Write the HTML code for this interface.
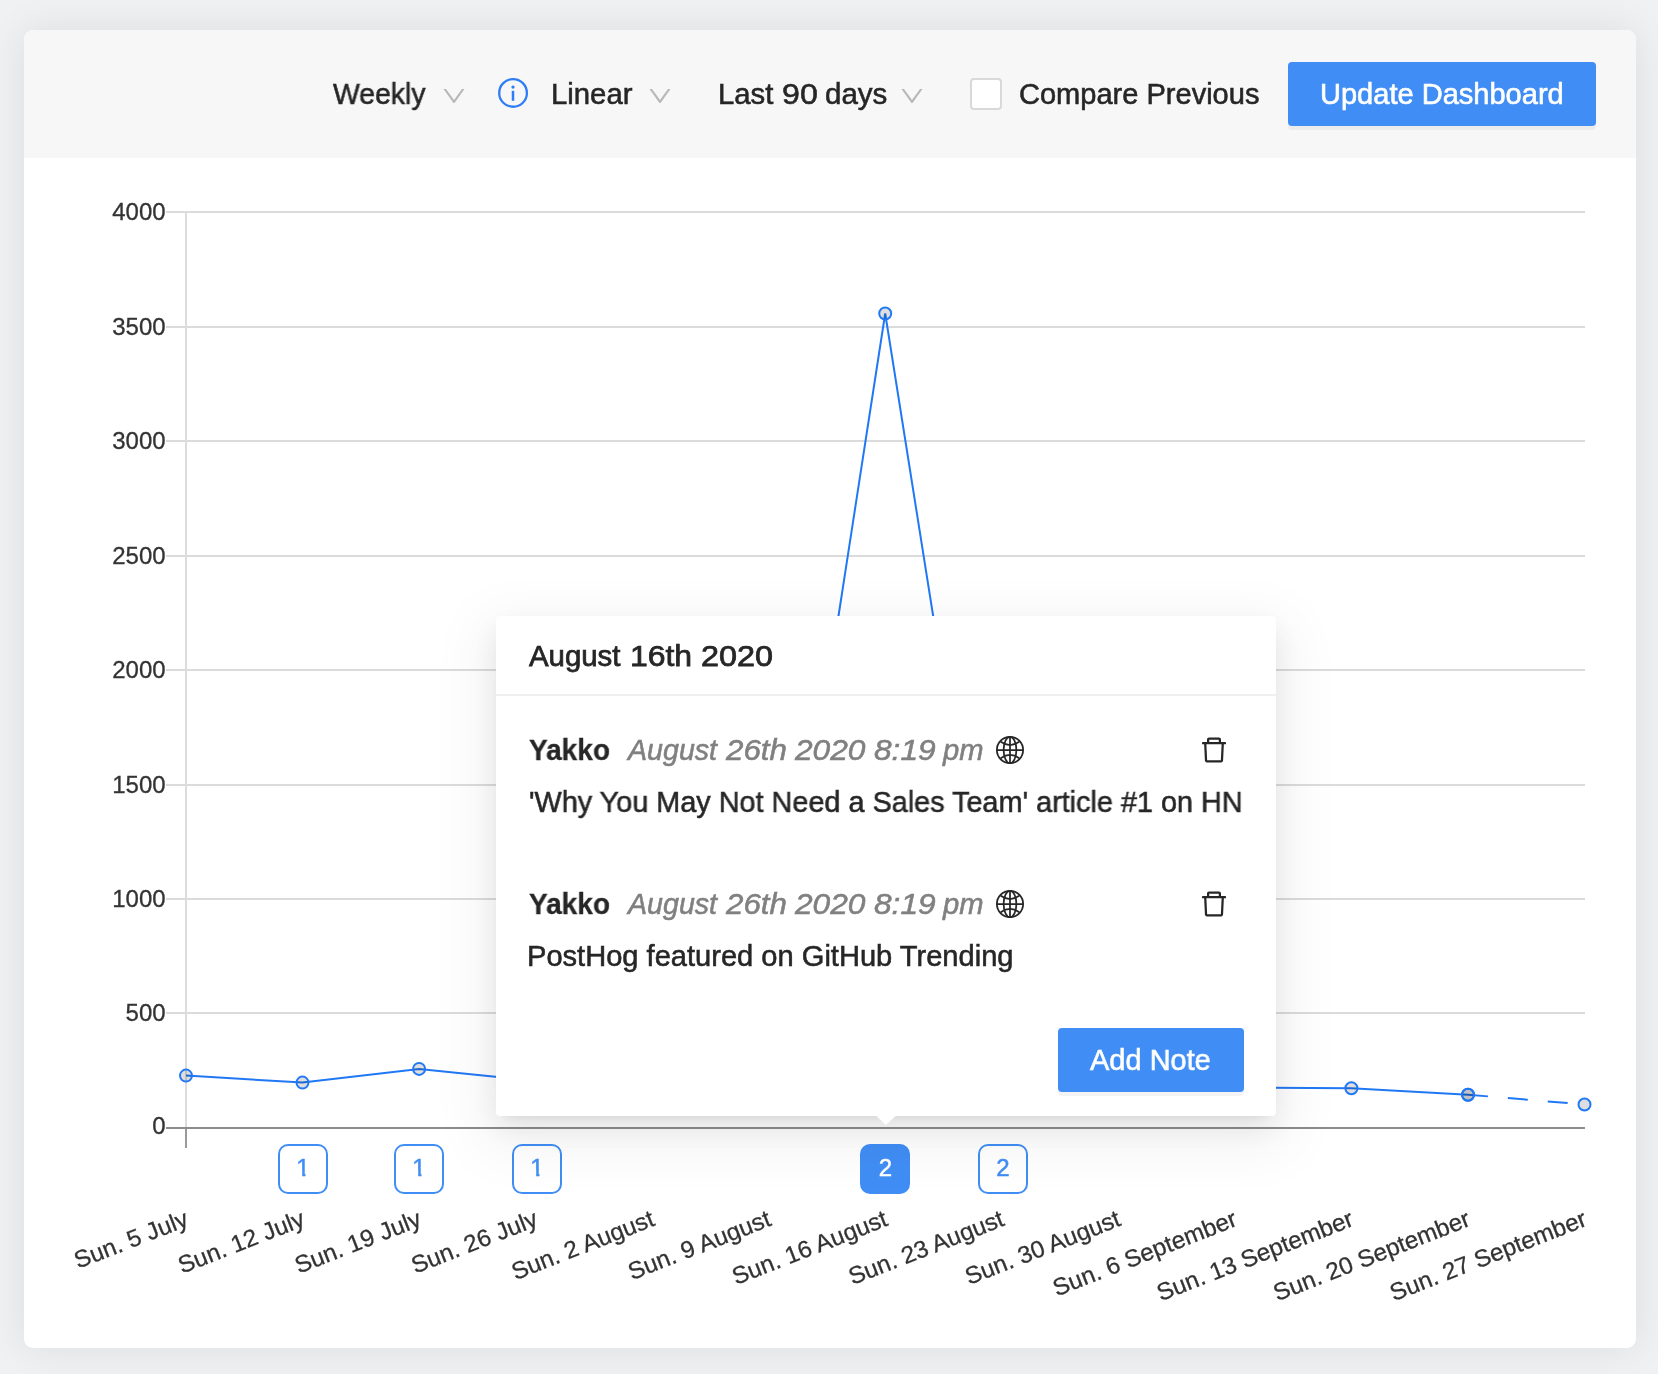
<!DOCTYPE html>
<html lang="en">
<head>
<meta charset="utf-8">
<title>Trends</title>
<style>
*{box-sizing:border-box;margin:0;padding:0}
html,body{width:1658px;height:1374px;overflow:hidden}
body{background:#f0f1f3;font-family:"Liberation Sans",sans-serif;color:#262626;position:relative}
.card{position:absolute;left:24px;top:30px;width:1612px;height:1318px;background:#fff;border-radius:9px;box-shadow:0 0 40px rgba(0,0,0,.085);overflow:hidden}
.toolbar{position:absolute;left:0;top:0;width:1612px;height:128px;background:#f7f7f7}
.t{position:absolute;white-space:nowrap;line-height:1;font-size:29px;color:#262626;-webkit-text-stroke:0.55px currentColor;will-change:transform}
.w{position:absolute;top:0;transform-origin:0 0;white-space:nowrap}
.chev{position:absolute}
.cb{position:absolute;left:970px;top:78px;width:32px;height:32px;border:2px solid #d9d9d9;border-radius:4px;background:#fff}
.btn{position:absolute;background:#408ef5;border-radius:4px;box-shadow:0 4px 0 rgba(0,0,0,.045);color:#fff}
.btn span{position:absolute;white-space:nowrap;line-height:1;font-size:29px;color:#fff;-webkit-text-stroke:0.6px #fff;will-change:transform}
#chart{position:absolute;left:0;top:0}
.mk{position:absolute;top:1144px;width:50px;height:50px;border:2px solid #408ef5;border-radius:10px;background:#fff;color:#408ef5;font-size:24px;line-height:43.6px;text-align:center;will-change:transform;-webkit-text-stroke:0.5px currentColor}
.mk .o{display:inline-block;clip-path:polygon(0 0,9.1px 0,9.1px 100%,5.9px 100%,5.9px 55%,0 55%)}
.mk.on{background:#408ef5;color:#fff;text-indent:1px}
.pop{position:absolute;left:496px;top:616px;width:780px;height:500px;background:#fff;border-radius:4px;box-shadow:0 6px 12px -8px rgba(0,0,0,.12),0 12px 32px 0 rgba(0,0,0,.08),0 18px 56px 16px rgba(0,0,0,.05)}
.pop .sep{position:absolute;left:0;top:78px;width:780px;height:2px;background:#f0f0f0}
</style>
</head>
<body>
<div class="card"><div class="toolbar"></div></div>

<!-- toolbar -->
<span class="t" id="t1" style="left:332.6px;top:80px;transform:scaleX(0.9790);transform-origin:0 0;">Weekly</span>
<svg class="chev" style="left:439.5px;top:82.2px" width="28" height="28" viewBox="0 0 1024 1024"><path d="M884 256h-75c-5.100 0-9.900 2.500-12.900 6.600L512 654.200 227.900 262.600c-3-4.100-7.800-6.600-12.900-6.600h-75c-6.500 0-10.300 7.400-6.500 12.700l352.600 486.100c12.800 17.600 39 17.600 51.700 0l352.600-486.100c3.900-5.300.100-12.700-6.400-12.700z" fill="#b8b8b8"/></svg>
<svg class="chev" style="left:497px;top:77px" width="32" height="32" viewBox="0 0 32 32"><circle cx="16.05" cy="15.9" r="13.85" fill="none" stroke="#2f7df6" stroke-width="2.3"/><rect x="14.75" y="13.8" width="2.5" height="10" fill="#2f7df6"/><circle cx="16" cy="10.1" r="1.65" fill="#2f7df6"/></svg>
<span class="t" id="t2" style="left:550.5px;top:80px;transform:scaleX(1.0109);transform-origin:0 0;">Linear</span>
<svg class="chev" style="left:646.4px;top:82.2px" width="28" height="28" viewBox="0 0 1024 1024"><path d="M884 256h-75c-5.100 0-9.900 2.500-12.900 6.600L512 654.200 227.900 262.600c-3-4.100-7.800-6.600-12.900-6.600h-75c-6.500 0-10.300 7.400-6.500 12.700l352.600 486.100c12.800 17.600 39 17.600 51.700 0l352.600-486.100c3.900-5.300.100-12.700-6.400-12.700z" fill="#b8b8b8"/></svg>
<div class="t" id="t3" style="left:0;top:80px;"><span class="w" style="left:717.5px;transform:scaleX(1.0101)">Last</span> <span class="w" style="left:781.8px;transform:scaleX(1.1091)">90</span> <span class="w" style="left:825.1px;transform:scaleX(1.0182)">days</span></div>
<svg class="chev" style="left:898.1px;top:82.2px" width="28" height="28" viewBox="0 0 1024 1024"><path d="M884 256h-75c-5.100 0-9.900 2.500-12.900 6.600L512 654.200 227.900 262.600c-3-4.100-7.800-6.600-12.900-6.600h-75c-6.500 0-10.300 7.400-6.500 12.700l352.600 486.100c12.800 17.600 39 17.600 51.700 0l352.600-486.100c3.900-5.300.100-12.700-6.400-12.700z" fill="#b8b8b8"/></svg>
<div class="cb"></div>
<span class="t" id="t4" style="left:1019.2px;top:80px;transform:scaleX(1.0010);transform-origin:0 0;">Compare Previous</span>
<div class="btn" style="left:1288px;top:62px;width:308px;height:64px"><span id="t5" style="left:32.2px;top:18px;transform:scaleX(1.0012);transform-origin:0 0;">Update Dashboard</span></div>

<!-- chart -->
<svg id="chart" width="1658" height="1374" viewBox="0 0 1658 1374" font-family="Liberation Sans, sans-serif">
<rect x="166" y="1012.0" width="1419" height="2" fill="#dbdbdb"/>
<rect x="166" y="898.0" width="1419" height="2" fill="#dbdbdb"/>
<rect x="166" y="784.0" width="1419" height="2" fill="#dbdbdb"/>
<rect x="166" y="669.0" width="1419" height="2" fill="#dbdbdb"/>
<rect x="166" y="555.0" width="1419" height="2" fill="#dbdbdb"/>
<rect x="166" y="440.0" width="1419" height="2" fill="#dbdbdb"/>
<rect x="166" y="326.0" width="1419" height="2" fill="#dbdbdb"/>
<rect x="166" y="211.0" width="1419" height="2" fill="#dbdbdb"/>
<rect x="185" y="211" width="2" height="917" fill="#dcdcdc"/>
<rect x="185" y="1128" width="2" height="20" fill="#9a9a9a"/>
<rect x="166" y="1127" width="1419" height="2" fill="#8c8c8c"/>
<text x="165.6" y="1134.1" font-size="24" fill="#333" stroke="#333" stroke-width="0.3" text-anchor="end">0</text>
<text x="165.6" y="1020.5" font-size="24" fill="#333" stroke="#333" stroke-width="0.3" text-anchor="end">500</text>
<text x="165.6" y="906.5" font-size="24" fill="#333" stroke="#333" stroke-width="0.3" text-anchor="end">1000</text>
<text x="165.6" y="792.5" font-size="24" fill="#333" stroke="#333" stroke-width="0.3" text-anchor="end">1500</text>
<text x="165.6" y="677.5" font-size="24" fill="#333" stroke="#333" stroke-width="0.3" text-anchor="end">2000</text>
<text x="165.6" y="563.5" font-size="24" fill="#333" stroke="#333" stroke-width="0.3" text-anchor="end">2500</text>
<text x="165.6" y="448.5" font-size="24" fill="#333" stroke="#333" stroke-width="0.3" text-anchor="end">3000</text>
<text x="165.6" y="334.5" font-size="24" fill="#333" stroke="#333" stroke-width="0.3" text-anchor="end">3500</text>
<text x="165.6" y="219.5" font-size="24" fill="#333" stroke="#333" stroke-width="0.3" text-anchor="end">4000</text>
<polyline points="186.0,1075.6 302.5,1082.6 419.1,1068.9 535.6,1081.0 652.2,1075.0 768.7,1068.0 885.2,313.5 1001.8,1049.0 1118.3,1075.0 1234.9,1087.6 1351.4,1088.2 1468.0,1094.7" fill="none" stroke="#2178f5" stroke-width="2" stroke-linejoin="miter"/>
<line x1="1468.0" y1="1094.7" x2="1584.5" y2="1104.5" stroke="#2178f5" stroke-width="2" stroke-dasharray="20 20"/>
<circle cx="186.0" cy="1075.6" r="6" fill="rgba(0,0,0,0.13)" stroke="#2178f5" stroke-width="2"/>
<circle cx="302.5" cy="1082.6" r="6" fill="rgba(0,0,0,0.13)" stroke="#2178f5" stroke-width="2"/>
<circle cx="419.1" cy="1068.9" r="6" fill="rgba(0,0,0,0.13)" stroke="#2178f5" stroke-width="2"/>
<circle cx="535.6" cy="1081" r="6" fill="rgba(0,0,0,0.13)" stroke="#2178f5" stroke-width="2"/>
<circle cx="652.2" cy="1075" r="6" fill="rgba(0,0,0,0.13)" stroke="#2178f5" stroke-width="2"/>
<circle cx="768.7" cy="1068" r="6" fill="rgba(0,0,0,0.13)" stroke="#2178f5" stroke-width="2"/>
<circle cx="885.2" cy="313.5" r="6" fill="rgba(0,0,0,0.13)" stroke="#2178f5" stroke-width="2"/>
<circle cx="1001.8" cy="1049" r="6" fill="rgba(0,0,0,0.13)" stroke="#2178f5" stroke-width="2"/>
<circle cx="1118.3" cy="1075" r="6" fill="rgba(0,0,0,0.13)" stroke="#2178f5" stroke-width="2"/>
<circle cx="1234.9" cy="1087.6" r="6" fill="rgba(0,0,0,0.13)" stroke="#2178f5" stroke-width="2"/>
<circle cx="1351.4" cy="1088.2" r="6" fill="rgba(0,0,0,0.13)" stroke="#2178f5" stroke-width="2"/>
<circle cx="1468.0" cy="1094.7" r="6" fill="rgba(0,0,0,0.13)" stroke="#2178f5" stroke-width="2"/>
<circle cx="1468.0" cy="1094.7" r="6" fill="rgba(0,0,0,0.13)" stroke="#2178f5" stroke-width="2"/>
<circle cx="1584.5" cy="1104.5" r="6" fill="rgba(0,0,0,0.13)" stroke="#2178f5" stroke-width="2"/>
<text transform="translate(186.7 1217.4) rotate(-21.4) scale(1.010 1)" x="0" y="8.3" font-size="24" fill="#333" stroke="#333" stroke-width="0.3" text-anchor="end">Sun. 5 July</text>
<text transform="translate(303.2 1217.4) rotate(-21.4) scale(1.010 1)" x="0" y="8.3" font-size="24" fill="#333" stroke="#333" stroke-width="0.3" text-anchor="end">Sun. 12 July</text>
<text transform="translate(419.8 1217.4) rotate(-21.4) scale(1.010 1)" x="0" y="8.3" font-size="24" fill="#333" stroke="#333" stroke-width="0.3" text-anchor="end">Sun. 19 July</text>
<text transform="translate(536.3 1217.4) rotate(-21.4) scale(1.010 1)" x="0" y="8.3" font-size="24" fill="#333" stroke="#333" stroke-width="0.3" text-anchor="end">Sun. 26 July</text>
<text transform="translate(652.9 1217.4) rotate(-21.4) scale(1.010 1)" x="0" y="8.3" font-size="24" fill="#333" stroke="#333" stroke-width="0.3" text-anchor="end">Sun. 2 August</text>
<text transform="translate(769.4 1217.4) rotate(-21.4) scale(1.010 1)" x="0" y="8.3" font-size="24" fill="#333" stroke="#333" stroke-width="0.3" text-anchor="end">Sun. 9 August</text>
<text transform="translate(886.0 1217.4) rotate(-21.4) scale(1.010 1)" x="0" y="8.3" font-size="24" fill="#333" stroke="#333" stroke-width="0.3" text-anchor="end">Sun. 16 August</text>
<text transform="translate(1002.5 1217.4) rotate(-21.4) scale(1.010 1)" x="0" y="8.3" font-size="24" fill="#333" stroke="#333" stroke-width="0.3" text-anchor="end">Sun. 23 August</text>
<text transform="translate(1119.0 1217.4) rotate(-21.4) scale(1.010 1)" x="0" y="8.3" font-size="24" fill="#333" stroke="#333" stroke-width="0.3" text-anchor="end">Sun. 30 August</text>
<text transform="translate(1235.6 1217.4) rotate(-21.4) scale(1.010 1)" x="0" y="8.3" font-size="24" fill="#333" stroke="#333" stroke-width="0.3" text-anchor="end">Sun. 6 September</text>
<text transform="translate(1352.1 1217.4) rotate(-21.4) scale(1.010 1)" x="0" y="8.3" font-size="24" fill="#333" stroke="#333" stroke-width="0.3" text-anchor="end">Sun. 13 September</text>
<text transform="translate(1468.7 1217.4) rotate(-21.4) scale(1.010 1)" x="0" y="8.3" font-size="24" fill="#333" stroke="#333" stroke-width="0.3" text-anchor="end">Sun. 20 September</text>
<text transform="translate(1585.2 1217.4) rotate(-21.4) scale(1.010 1)" x="0" y="8.3" font-size="24" fill="#333" stroke="#333" stroke-width="0.3" text-anchor="end">Sun. 27 September</text>
</svg>

<!-- annotation markers -->
<div class="mk" style="left:278px"><span class="o">1</span></div>
<div class="mk" style="left:394px"><span class="o">1</span></div>
<div class="mk" style="left:512px"><span class="o">1</span></div>
<div class="mk on" style="left:860px">2</div>
<div class="mk" style="left:978px">2</div>

<!-- popover -->
<div class="pop">
  <div class="sep"></div>
</div>
<svg class="chev" style="left:870px;top:1114px" width="32" height="14" viewBox="0 0 32 14"><path d="M5.6 0H26.4V2H25.6L15.8 11L6.4 2H5.6Z" fill="#fff"/></svg>
<div class="t" id="p0" style="left:0;top:642px;-webkit-text-stroke:0.75px currentColor"><span class="w" style="left:528.67px;transform:scaleX(1.0128)">August</span> <span class="w" style="left:630.37px;transform:scaleX(1.1003)">16th</span> <span class="w" style="left:700.7px;transform:scaleX(1.1157)">2020</span></div>

<span class="t" id="p1" style="left:529.3px;top:736px;transform:scaleX(0.9655);transform-origin:0 0;font-weight:bold;-webkit-text-stroke:0.3px currentColor">Yakko</span>
<div class="t" id="p2" style="left:0;top:736px;font-style:italic;color:#808080"><span class="w" style="left:627.67px;transform:scaleX(0.9863)">August</span> <span class="w" style="left:726.35px;transform:scaleX(1.0795)">26th</span> <span class="w" style="left:795.45px;transform:scaleX(1.0921)">2020</span> <span class="w" style="left:873.92px;transform:scaleX(1.0921)">8:19</span> <span class="w" style="left:942.93px;transform:scaleX(1.0063)">pm</span></div>
<svg class="chev" style="left:994px;top:734px" width="32" height="32" viewBox="0 0 1024 1024" fill="none" stroke="#262626" stroke-width="56"><circle cx="512" cy="512" r="420"/><path d="M512 92V932M92 512H932"/><ellipse cx="512" cy="512" rx="204" ry="420"/><path d="M215 250Q512 460 809 250M215 774Q512 564 809 774"/></svg>
<svg class="chev" style="left:1198px;top:734px" width="32" height="32" viewBox="0 0 1024 1024" fill="#262626"><path d="M360 184h-8c4.400 0 8-3.600 8-8v8h304v-8c0 4.400 3.600 8 8 8h-8v72h72v-80c0-35.300-28.700-64-64-64H352c-35.300 0-64 28.700-64 64v80h72v-72zm504 72H160c-17.700 0-32 14.300-32 32v32c0 4.400 3.600 8 8 8h60.400l24.700 523c1.600 34.100 29.800 61 63.900 61h454c34.200 0 62.300-26.800 63.900-61l24.700-523H888c4.400 0 8-3.600 8-8v-32c0-17.700-14.300-32-32-32zM731.300 840H292.700l-24.200-512h487l-24.200 512z"/></svg>
<span class="t" id="p3" style="left:528.8px;top:788px;transform:scaleX(0.9937);transform-origin:0 0;">'Why You May Not Need a Sales Team' article #1 on HN</span>

<span class="t" id="p4" style="left:529.3px;top:890px;transform:scaleX(0.9655);transform-origin:0 0;font-weight:bold;-webkit-text-stroke:0.3px currentColor">Yakko</span>
<div class="t" id="p5" style="left:0;top:890px;font-style:italic;color:#808080"><span class="w" style="left:627.67px;transform:scaleX(0.9863)">August</span> <span class="w" style="left:726.35px;transform:scaleX(1.0795)">26th</span> <span class="w" style="left:795.45px;transform:scaleX(1.0921)">2020</span> <span class="w" style="left:873.92px;transform:scaleX(1.0921)">8:19</span> <span class="w" style="left:942.93px;transform:scaleX(1.0063)">pm</span></div>
<svg class="chev" style="left:994px;top:888px" width="32" height="32" viewBox="0 0 1024 1024" fill="none" stroke="#262626" stroke-width="56"><circle cx="512" cy="512" r="420"/><path d="M512 92V932M92 512H932"/><ellipse cx="512" cy="512" rx="204" ry="420"/><path d="M215 250Q512 460 809 250M215 774Q512 564 809 774"/></svg>
<svg class="chev" style="left:1198px;top:888px" width="32" height="32" viewBox="0 0 1024 1024" fill="#262626"><path d="M360 184h-8c4.400 0 8-3.600 8-8v8h304v-8c0 4.400 3.600 8 8 8h-8v72h72v-80c0-35.300-28.700-64-64-64H352c-35.300 0-64 28.700-64 64v80h72v-72zm504 72H160c-17.700 0-32 14.300-32 32v32c0 4.400 3.600 8 8 8h60.400l24.700 523c1.600 34.100 29.800 61 63.900 61h454c34.200 0 62.300-26.800 63.900-61l24.700-523H888c4.400 0 8-3.600 8-8v-32c0-17.700-14.300-32-32-32zM731.300 840H292.700l-24.200-512h487l-24.200 512z"/></svg>
<span class="t" id="p6" style="left:527.1px;top:942px;transform:scaleX(1.0026);transform-origin:0 0;">PostHog featured on GitHub Trending</span>

<div class="btn" style="left:1058px;top:1028px;width:186px;height:64px"><span id="p7" style="left:32.4px;top:18px;transform:scaleX(0.9983);transform-origin:0 0;">Add Note</span></div>

</body>
</html>
